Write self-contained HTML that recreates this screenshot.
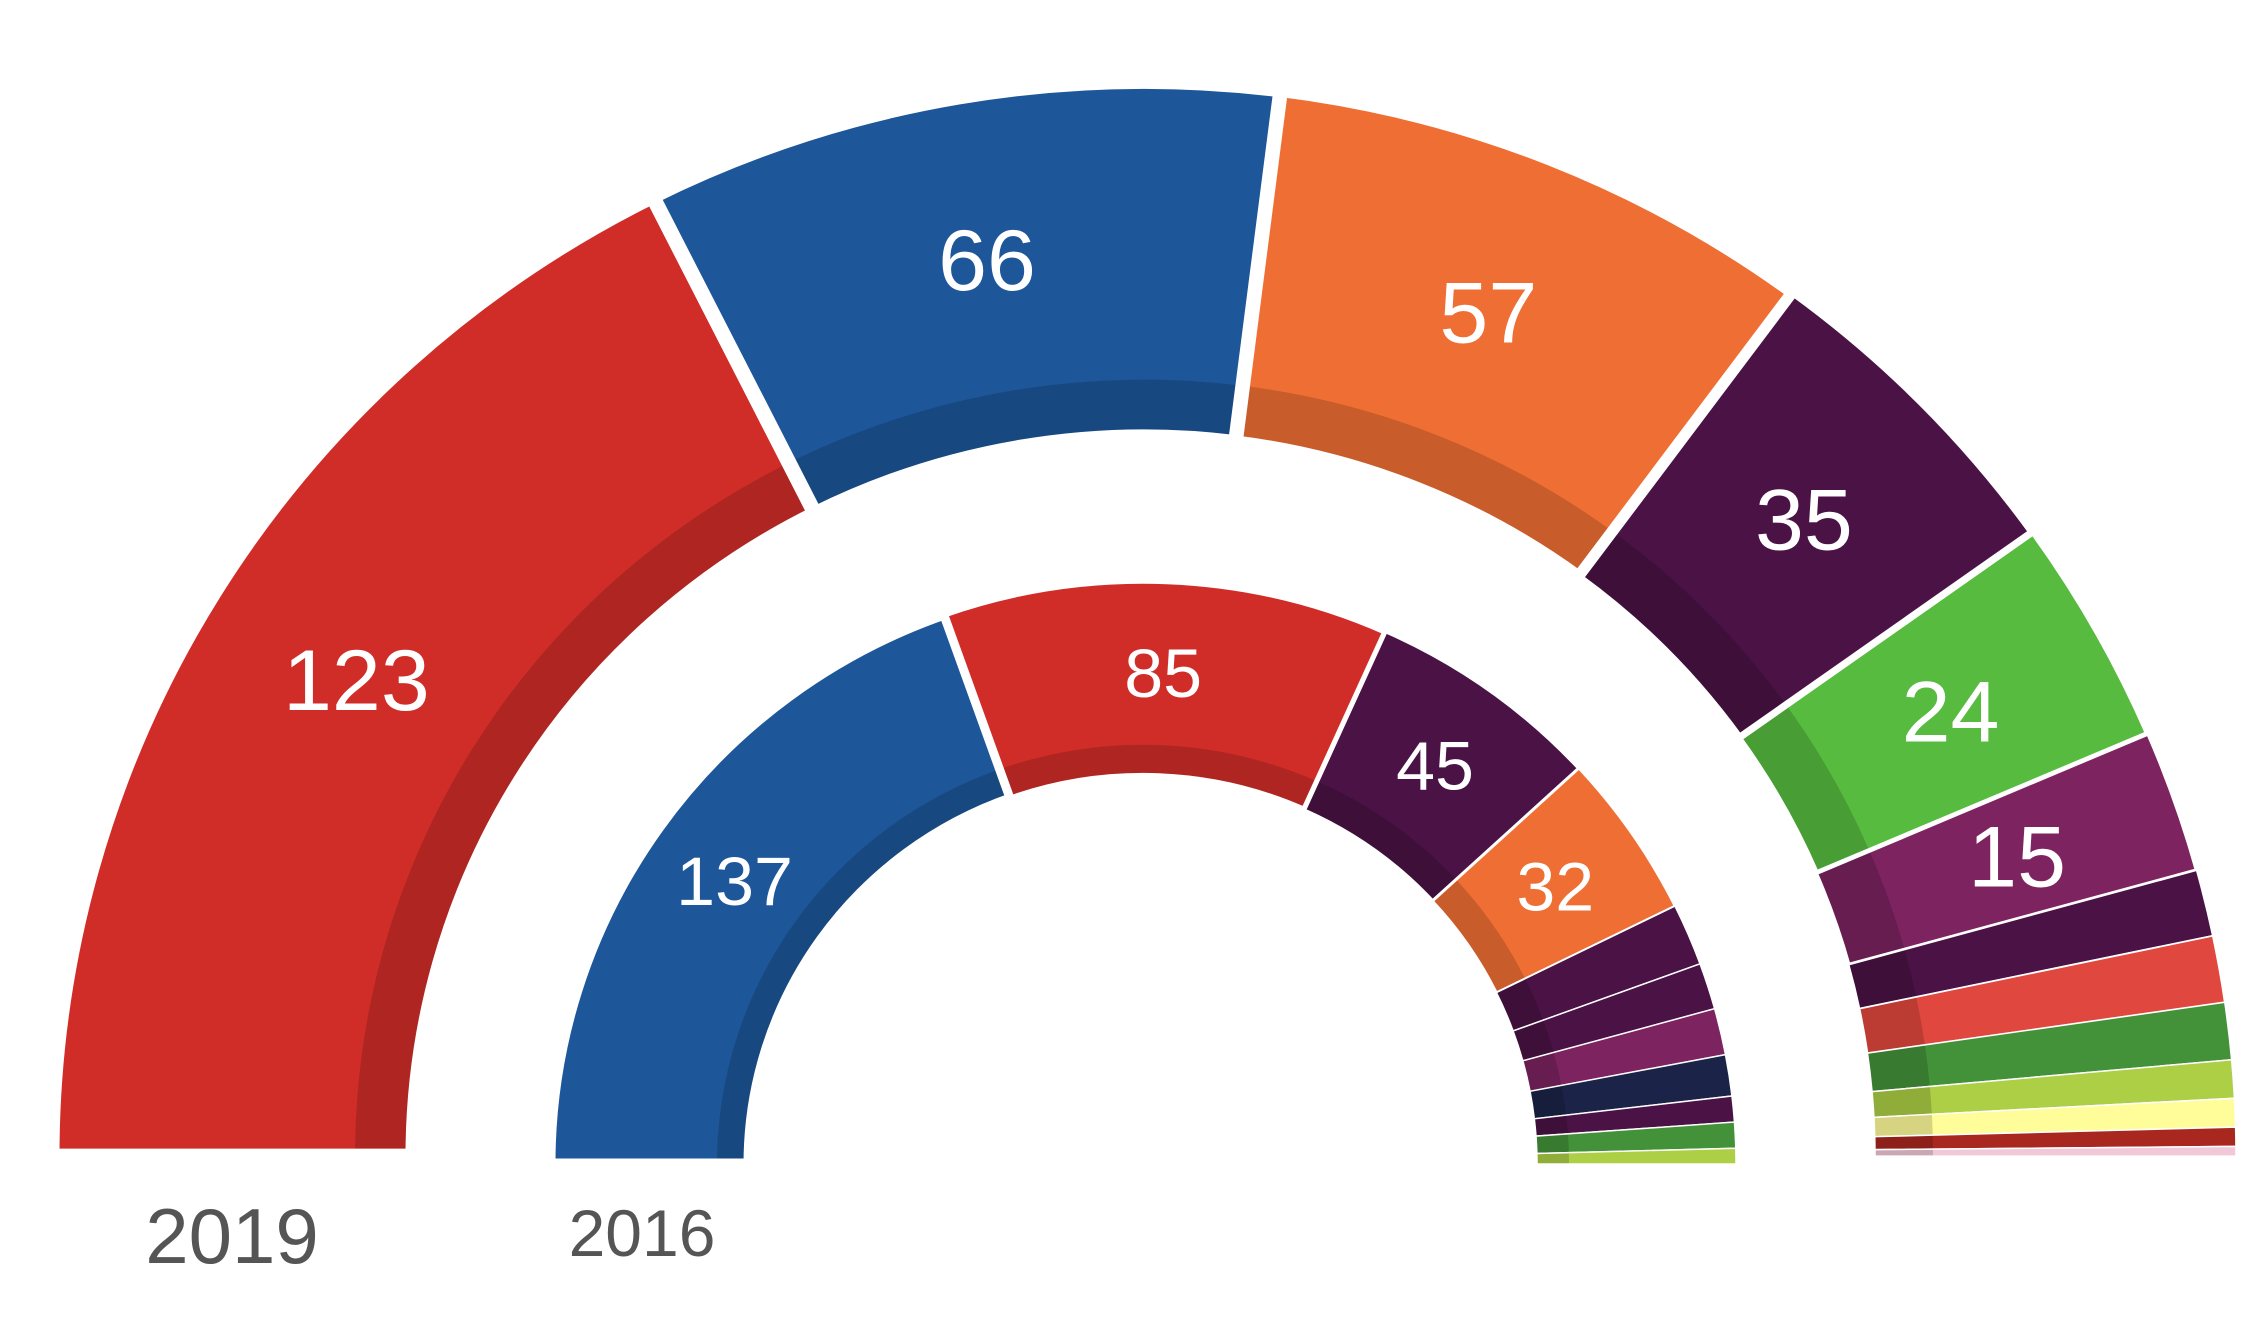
<!DOCTYPE html>
<html><head><meta charset="utf-8">
<style>
html,body{margin:0;padding:0;background:#fff;}
svg{display:block;}
</style></head>
<body>
<svg id="chart" width="2262" height="1335" viewBox="0 0 2262 1335" xmlns="http://www.w3.org/2000/svg">
  <g transform="translate(0,1160) scale(1,0.984) translate(0,-1160)">
    <g id="outer"></g>
    <g id="inner"></g>
  </g>
  <text x="232" y="1263" font-family="Liberation Sans, sans-serif" font-size="78" fill="#555" text-anchor="middle">2019</text>
  <text x="642" y="1256" font-family="Liberation Sans, sans-serif" font-size="66" fill="#555" text-anchor="middle">2016</text>
</svg>
<script>
const seats2019 = [123, 66, 57, 35, 24, 15, 7, 7, 6, 4, 3, 2, 1];
const colors2019 = ["#d12d28","#1d5699","#ef6e33","#4a1245","#56bb3e","#7d2360","#4a1245","#e0483f","#43923a","#adcf45","#fffc9a","#a8281f","#f0c8d8"];
const seats2016 = [137, 85, 45, 32, 12, 9, 9, 8, 5, 5, 3];
const colors2016 = ["#1d5699","#d12d28","#4a1245","#ef6e33","#4a1245","#4a1245","#7d2360","#1b2448","#4a1245","#43923a","#adcf45"];
const labelMin2019 = 15;
const labelMin2016 = 32;

const NS = "http://www.w3.org/2000/svg";
function pt(cx, cy, r, a){ return [cx + r*Math.cos(a), cy - r*Math.sin(a)]; }
function arcPath(cx, cy, r0, r1, a0, a1){
  const p1 = pt(cx,cy,r1,a0), p2 = pt(cx,cy,r1,a1), p3 = pt(cx,cy,r0,a1), p4 = pt(cx,cy,r0,a0);
  const large = (a0 - a1) > Math.PI ? 1 : 0;
  return `M${p1[0]},${p1[1]} A${r1},${r1} 0 ${large} 1 ${p2[0]},${p2[1]} L${p3[0]},${p3[1]} A${r0},${r0} 0 ${large} 0 ${p4[0]},${p4[1]} Z`;
}
function drawRing(gid, seats, colors, cx, cy, R, r, band, labelR, fontSize, labelMin, strokeScale, strokeMax, year){
  const g = document.getElementById(gid);
  const total = seats.reduce((a,b)=>a+b,0);
  let cum = 0;
  seats.forEach((v,i)=>{
    const a0 = Math.PI - Math.PI*cum/total;
    cum += v;
    const a1 = Math.PI - Math.PI*cum/total;
    const seg = document.createElementNS(NS,"g");
    
    
    const p = document.createElementNS(NS,"path");
    p.setAttribute("d", arcPath(cx,cy,r,R,a0,a1));
    p.setAttribute("fill", colors[i]);
    
    
    seg.appendChild(p);
    const d = document.createElementNS(NS,"path");
    d.setAttribute("d", arcPath(cx,cy,r,r+band,a0,a1));
    d.setAttribute("fill", "rgba(0,0,0,0.16)");
    
    
    seg.appendChild(d);
    const s = document.createElementNS(NS,"path");
    s.setAttribute("d", arcPath(cx,cy,r,R,a0,a1));
    s.setAttribute("fill", "none");
    s.setAttribute("stroke", "#fff");
    s.setAttribute("stroke-width", Math.max(1.5, Math.min(strokeMax, v*strokeScale)));
    s.setAttribute("stroke-linejoin", "miter");
    
    
    seg.appendChild(s);
    g.appendChild(seg);
    if (v >= labelMin){
      const am = (a0+a1)/2;
      const lp = pt(cx,cy,labelR,am);
      const t = document.createElementNS(NS,"text");
      t.setAttribute("x", lp[0]);
      t.setAttribute("y", lp[1] + fontSize*0.36);
      t.setAttribute("text-anchor","middle");
      t.setAttribute("font-family","Liberation Sans, sans-serif");
      t.setAttribute("font-size", fontSize);
      t.setAttribute("fill","#fff");
      t.textContent = v;
      
      
      g.appendChild(t);
    }
  });
}
drawRing("outer", seats2019, colors2019, 1144, 1156, 1092, 731, 58, 925, 88, labelMin2019, 0.25, 15, "2019");
drawRing("inner", seats2016, colors2016, 1143, 1164, 593, 394, 32, 500, 70, labelMin2016, 0.08, 12, "2016");
</script>
</body></html>
